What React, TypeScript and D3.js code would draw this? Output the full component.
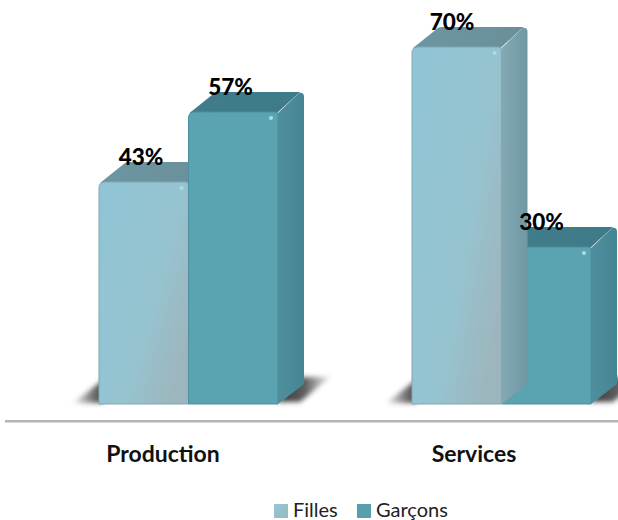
import React from "react";
import * as d3 from "d3";

const categories = ["Production", "Services"];
const seriesNames = ["Filles", "Garçons"];
const filles = [43, 70];
const garcons = [57, 30];
const seriesValues = [filles, garcons];

const font = "Lato, 'Open Sans', sans-serif";
const W = 618, H = 520;
const baseY = 404;
const y = d3.scaleLinear().domain([-1.4, 70]).range([baseY, 47]);
const x0 = d3.scalePoint<string>().domain(categories).range([99, 412]);
const barW = 89.5;
const dx = 26, dy = 20;

const pal = [
  { front: "url(#fFront)", side: "url(#fSide)", top: "url(#fTop)", edge: "#7fa8b3", swatch: "url(#fSwatch)" },
  { front: "url(#gFront)", side: "url(#gSide)", top: "url(#gTop)", edge: "#4f8f9d", swatch: "#56a0ae" },
];

function Bar({ x, v, s }: { x: number; v: number; s: number }) {
  const t = y(v), c = pal[s], r = 6;
  const frontPath = `M${x},${baseY} L${x},${t + r} Q${x},${t} ${x + r},${t} L${x + barW - 3},${t} Q${x + barW},${t} ${x + barW},${t + 3} L${x + barW},${baseY} Z`;
  const topPath = `M${x + 1},${t + 1} L${x + dx},${t - dy + 1} Q${x + dx + 1},${t - dy} ${x + dx + 4},${t - dy} L${x + barW + dx - 4},${t - dy} L${x + barW - 1},${t + 1} Z`;
  const sidePath = `M${x + barW},${t + 1} L${x + barW + dx - 5},${t - dy + 1} Q${x + barW + dx},${t - dy} ${x + barW + dx},${t - dy + 5} L${x + barW + dx},${baseY - dy} L${x + barW},${baseY} Z`;
  return (
    <g>
      <path d={topPath} fill={c.top} />
      <path d={sidePath} fill={c.side} />
      <path d={frontPath} fill={c.front} stroke={c.edge} strokeWidth={1} />
      <circle cx={x + barW - 7} cy={t + 6} r={2} fill="#a9dde8" filter="url(#soft)" />
    </g>
  );
}

export default function App() {
  return (
    <svg width={W} height={H} viewBox={`0 0 ${W} ${H}`} style={{ position: "absolute", left: 0, top: 0, background: "#fff" }}>
      <defs>
        <linearGradient id="fFront" x1="0" y1="0" x2="1" y2="0.7">
          <stop offset="0" stopColor="#90c5d5" />
          <stop offset="0.65" stopColor="#96c3d0" />
          <stop offset="1" stopColor="#9db6bd" />
        </linearGradient>
        <linearGradient id="fSwatch" x1="0" y1="0" x2="1" y2="1">
          <stop offset="0" stopColor="#93c8d7" />
          <stop offset="1" stopColor="#9ab8c0" />
        </linearGradient>
        <linearGradient id="gFront" x1="0" y1="0" x2="1" y2="0">
          <stop offset="0" stopColor="#59a3b2" />
          <stop offset="1" stopColor="#5ca3b1" />
        </linearGradient>
        <linearGradient id="fSide" x1="0" y1="0" x2="1" y2="0">
          <stop offset="0" stopColor="#83a9b4" />
          <stop offset="1" stopColor="#6f98a4" />
        </linearGradient>
        <linearGradient id="gSide" x1="0" y1="0" x2="1" y2="0">
          <stop offset="0" stopColor="#4e8f9e" />
          <stop offset="1" stopColor="#468493" />
        </linearGradient>
        <linearGradient id="fTop" x1="0" y1="0" x2="1" y2="0">
          <stop offset="0" stopColor="#6c96a2" />
          <stop offset="1" stopColor="#6a8f9a" />
        </linearGradient>
        <linearGradient id="gTop" x1="0" y1="0" x2="1" y2="0">
          <stop offset="0" stopColor="#417c8a" />
          <stop offset="1" stopColor="#3f7a88" />
        </linearGradient>
        <linearGradient id="shadowL" x1="0" y1="0" x2="1" y2="0">
          <stop offset="0" stopColor="#555" stopOpacity="0.1" />
          <stop offset="0.7" stopColor="#555" stopOpacity="0.85" />
          <stop offset="1" stopColor="#444" stopOpacity="1" />
        </linearGradient>
        <linearGradient id="shadowR" x1="0" y1="0" x2="1" y2="0">
          <stop offset="0" stopColor="#333" stopOpacity="1" />
          <stop offset="0.55" stopColor="#444" stopOpacity="0.85" />
          <stop offset="1" stopColor="#666" stopOpacity="0.15" />
        </linearGradient>
        <filter id="blur" x="-40%" y="-60%" width="180%" height="220%">
          <feGaussianBlur stdDeviation="2.5" />
        </filter>
        <filter id="soft"><feGaussianBlur stdDeviation="0.7" /></filter>
        <filter id="line" x="-2%" y="-200%" width="104%" height="500%"><feGaussianBlur stdDeviation="0.5" /></filter>
      </defs>

      {categories.map((cat) => {
        const x = x0(cat)!;
        const r = x + 2 * barW;
        return (
          <g key={cat + "s"} filter="url(#blur)">
            <path d={`M${x - 26},${baseY - 1} L${x + 4},${baseY - 24} L${x + 4},${baseY - 1} Z`} fill="url(#shadowL)" />
            <path d={`M${r - 2},${baseY - 2} L${r + dx - 2},${baseY - 27} L${r + dx + 26},${baseY - 27} L${r + 22},${baseY - 2} Z`} fill="url(#shadowR)" />
          </g>
        );
      })}

      {categories.map((cat, i) => {
        const x = x0(cat)!;
        return (
          <g key={cat}>
            {i === 0 ? (
              <>
                <Bar x={x} v={seriesValues[0][i]} s={0} />
                <Bar x={x + barW} v={seriesValues[1][i]} s={1} />
              </>
            ) : (
              <>
                <Bar x={x + barW} v={seriesValues[1][i]} s={1} />
                <Bar x={x} v={seriesValues[0][i]} s={0} />
              </>
            )}
          </g>
        );
      })}

      {categories.map((cat, i) =>
        seriesNames.map((n, s) => (
          <text key={cat + n} x={x0(cat)! + s * barW + (i === 0 ? 42 : 40)} y={y(seriesValues[s][i]) - 17.5}
            textAnchor="middle" fontFamily={font} fontWeight={900} fontSize={22.5} fill="#000">
            {seriesValues[s][i]}%
          </text>
        ))
      )}

      <rect x={5} y={420} width={W - 5} height={2.5} fill="#b4b4b4" filter="url(#line)" />

      {categories.map((cat) => (
        <text key={cat} x={x0(cat)! + (cat === "Production" ? 64 : 62)} y={462} textAnchor="middle"
          fontFamily={font} fontWeight={700} fontSize={23} fill="#111">{cat}</text>
      ))}

      {seriesNames.map((n, s) => {
        const lx = [274, 357][s];
        return (
          <g key={n}>
            <rect x={lx} y={504} width={14} height={14} fill={pal[s].swatch} />
            <text x={lx + 19} y={517} fontFamily={font} fontSize={20} fill="#222">{n}</text>
          </g>
        );
      })}
    </svg>
  );
}
